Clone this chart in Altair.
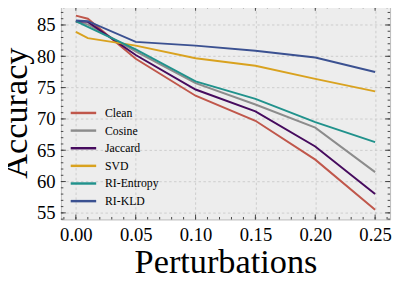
import altair as alt
import pandas as pd

# ---- data ----
perturbations = [0.0, 0.01, 0.05, 0.10, 0.15, 0.20, 0.25]
series_names = ["Clean", "Cosine", "Jaccard", "SVD", "RI-Entropy", "RI-KLD"]
clean = [86.5, 86.0, 79.6, 73.7, 69.7, 63.5, 55.5]
cosine = [85.5, 85.1, 80.8, 75.7, 72.3, 68.6, 61.5]
jaccard = [85.6, 85.5, 80.2, 74.7, 71.2, 65.6, 58.0]
svd = [83.9, 82.9, 81.7, 79.7, 78.5, 76.4, 74.4]
ri_entropy = [85.6, 84.7, 81.1, 76.0, 73.2, 69.5, 66.3]
ri_kld = [85.7, 85.6, 82.3, 81.7, 80.9, 79.8, 77.5]
series_colors = ["#c0574b", "#8c8c8c", "#460b5e", "#d9a21f", "#21928c", "#3b5191"]

x_major_ticks = [0.0, 0.05, 0.10, 0.15, 0.20, 0.25]
x_minor_ticks = [round(-0.01 + 0.01 * i, 2) for i in range(28)]
y_major_ticks = [55, 60, 65, 70, 75, 80, 85]
y_minor_ticks = list(range(54, 89))

x_domain = [-0.0125, 0.2625]
y_domain = [53.95, 88.05]

W, H = 336, 218
FONT = "Liberation Serif"

values = [clean, cosine, jaccard, svd, ri_entropy, ri_kld]
rows = []
for k, (name, vals) in enumerate(zip(series_names, values)):
    for x, v in zip(perturbations, vals):
        rows.append({"series": name, "order": k, "x": x, "acc": v})
df = pd.DataFrame(rows)

xs = alt.Scale(domain=x_domain, nice=False, zero=False)
ys = alt.Scale(domain=y_domain, nice=False, zero=False)
cs = alt.Scale(domain=series_names, range=series_colors)
x_axis = alt.Axis(values=x_major_ticks, format=".2f", title="Perturbations",
                  titleY=54, titleBaseline="alphabetic")
y_axis = alt.Axis(values=y_major_ticks, title="Accuracy",
                  titleX=-35, titleBaseline="alphabetic")

lines = alt.Chart(df).mark_line(strokeWidth=2).encode(
    x=alt.X("x:Q", scale=xs, axis=x_axis),
    y=alt.Y("acc:Q", scale=ys, axis=y_axis),
    color=alt.Color("series:N", scale=cs, legend=None),
    order=alt.Order("order:Q"),
    detail="series:N",
)

# hand-built legend (rows 18px apart, inside lower-left of the plot)
leg_df = pd.DataFrame({"series": series_names, "idx": list(range(len(series_names)))})
leg_base = alt.Chart(leg_df).transform_calculate(ly="109.3 + 18 * datum.idx")
leg_lines = leg_base.mark_rule(strokeWidth=2.5).encode(
    x=alt.value(10), x2=alt.value(36),
    y=alt.Y("ly:Q", scale=None),
    color=alt.Color("series:N", scale=cs, legend=None),
)
leg_text = leg_base.mark_text(align="left", baseline="middle", font=FONT,
                              fontSize=12, color="black").encode(
    x=alt.value(45), y=alt.Y("ly:Q", scale=None), text="series:N")

tick_color = "#444444"
xmaj = pd.DataFrame({"t": x_major_ticks})
xmin = pd.DataFrame({"t": x_minor_ticks})
ymaj = pd.DataFrame({"t": y_major_ticks})
ymin = pd.DataFrame({"t": y_minor_ticks})


def xticks(d, ln):
    base = alt.Chart(d).mark_rule(color=tick_color, strokeWidth=1)
    top = base.encode(x=alt.X("t:Q", scale=xs, axis=x_axis), y=alt.value(0), y2=alt.value(ln))
    bot = base.encode(x=alt.X("t:Q", scale=xs, axis=x_axis), y=alt.value(H), y2=alt.value(H - ln))
    return [top, bot]


def yticks(d, ln):
    base = alt.Chart(d).mark_rule(color=tick_color, strokeWidth=1)
    left = base.encode(y=alt.Y("t:Q", scale=ys, axis=y_axis), x=alt.value(0), x2=alt.value(ln))
    right = base.encode(y=alt.Y("t:Q", scale=ys, axis=y_axis), x=alt.value(W), x2=alt.value(W - ln))
    return [left, right]


tick_layers = xticks(xmaj, 5) + xticks(xmin, 2.5) + yticks(ymaj, 5) + yticks(ymin, 2.5)

chart = alt.layer(lines, *tick_layers, leg_lines, leg_text).properties(
    width=W, height=H,
    autosize=alt.AutoSizeParams(type="none"),
    padding={"left": 54, "top": -5, "right": 4, "bottom": 60},
).configure_view(
    fill="#ededed", stroke="#bbbbbb", strokeWidth=1
).configure_axis(
    grid=True, gridColor="#c4c4c4", gridDash=[2.5, 2.5], gridWidth=0.8,
    ticks=False, tickSize=0, domain=False,
    labelFont=FONT, labelFontSize=19, labelColor="black", labelPadding=6,
    titleFont=FONT, titleFontSize=35, titleFontWeight="normal", titleColor="black",
)

chart.save("out.html", embed_options={"renderer": "svg", "actions": False})
